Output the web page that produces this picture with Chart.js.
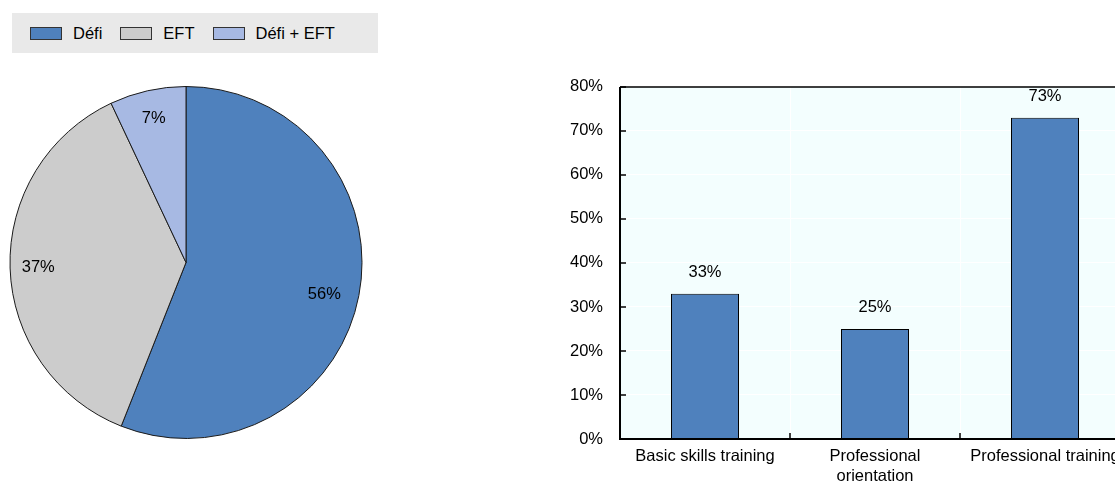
<!DOCTYPE html>
<html>
<head>
<meta charset="utf-8">
<script src="https://cdn.jsdelivr.net/npm/chart.js@4"></script>
<style>
  html, body { margin: 0; padding: 0; background: #fff; overflow: hidden; width: 1115px; height: 483px; }
  body { position: relative; font-family: 'Liberation Sans Narrow', 'Arial Narrow', 'Liberation Sans', Arial, sans-serif; }
  #legend {
    position: absolute; left: 12px; top: 13px; width: 366px; height: 40px;
    background: #e9e9e9; display: flex; align-items: center; padding-left: 18px; box-sizing: border-box;
    font-size: 16.5px; color: #000;
  }
  #legend .item { display: flex; align-items: center; margin-right: 18px; }
  #legend .sw { width: 30px; height: 11px; border: 1px solid #333; margin-right: 11px; }
  #pieWrap { position: absolute; left: 0; top: 86px; width: 372px; height: 353px; }
  #barWrap { position: absolute; left: 540px; top: 60px; width: 600px; height: 440px; }
</style>
</head>
<body>
<div id="legend"></div>
<div id="pieWrap"><canvas id="pie"></canvas></div>
<div id="barWrap"><canvas id="bar"></canvas></div>
<script>
// Parts de participants par dispositif
const pieLabels = ['Défi', 'EFT', 'Défi + EFT'];
const pieValues = [56, 37, 7];
const pieColors = ['#4f81bd', '#cccccc', '#a7b9e3'];

// Types of training received
const barLabels = ['Basic skills training', ['Professional', 'orientation'], 'Professional training'];
const barValues = [33, 25, 73];
const yTicks = [0, 10, 20, 30, 40, 50, 60, 70, 80];

const FONT = "'Liberation Sans Narrow', 'Arial Narrow', 'Liberation Sans', Arial, sans-serif";
Chart.defaults.font.family = FONT;
Chart.defaults.font.size = 16.5;
Chart.defaults.color = '#000';

// legend html
document.getElementById('legend').innerHTML = pieLabels.map((l, i) =>
  `<div class="item"><div class="sw" style="background:${pieColors[i]}"></div><span>${l}</span></div>`
).join('');

// pourcentages dans les parts
const pieLabelPlugin = {
  id: 'pieLabels',
  afterDatasetsDraw(chart) {
    const ctx = chart.ctx;
    const meta = chart.getDatasetMeta(0);
    ctx.save();
    ctx.font = '16.5px ' + FONT;
    ctx.fillStyle = '#000';
    ctx.textAlign = 'center';
    ctx.textBaseline = 'middle';
    meta.data.forEach((arc, i) => {
      const mid = (arc.startAngle + arc.endAngle) / 2;
      const d = arc.outerRadius * (i === 0 ? 0.8 : 0.84);
      ctx.fillText(pieValues[i] + '%', arc.x + Math.cos(mid) * d, arc.y + Math.sin(mid) * d + (i === 0 ? 6 : 0));
    });
    ctx.restore();
  }
};

new Chart(document.getElementById('pie'), {
  type: 'pie',
  data: {
    labels: pieLabels,
    datasets: [{
      data: pieValues,
      backgroundColor: pieColors,
      borderColor: '#1a1a1a',
      borderWidth: 1,
    }],
  },
  options: {
    responsive: true, maintainAspectRatio: false, animation: false,
    layout: { padding: 0 },
    plugins: { legend: { display: false }, tooltip: { enabled: false } },
  },
  plugins: [pieLabelPlugin],
});

// fond du graphique, cadre, ticks internes et etiquettes des barres
const barDecor = {
  id: 'barDecor',
  beforeDraw(chart) {
    const a = chart.chartArea, ctx = chart.ctx;
    ctx.save();
    ctx.fillStyle = '#f3fefe';
    ctx.fillRect(a.left, a.top, a.right - a.left, a.bottom - a.top);
    ctx.restore();
  },
  afterDatasetsDraw(chart) {
    const a = chart.chartArea, ctx = chart.ctx;
    const y = chart.scales.y, x = chart.scales.x;
    ctx.save();
    ctx.strokeStyle = '#000';
    // top / right
    ctx.lineWidth = 1.5;
    ctx.beginPath();
    ctx.moveTo(a.left, a.top); ctx.lineTo(a.right, a.top); ctx.lineTo(a.right, a.bottom);
    ctx.stroke();
    // axes
    ctx.lineWidth = 2;
    ctx.beginPath();
    ctx.moveTo(a.left, a.top); ctx.lineTo(a.left, a.bottom); ctx.lineTo(a.right, a.bottom);
    ctx.stroke();
    // inner ticks
    ctx.lineWidth = 1.5;
    ctx.beginPath();
    yTicks.forEach(v => {
      const py = Math.round(y.getPixelForValue(v));
      ctx.moveTo(a.left, py); ctx.lineTo(a.left + 6, py);
    });
    for (let i = 1; i < barLabels.length; i++) {
      const px = Math.round((x.getPixelForValue(i - 1) + x.getPixelForValue(i)) / 2);
      ctx.moveTo(px, a.bottom); ctx.lineTo(px, a.bottom - 6);
    }
    ctx.stroke();
    // value labels
    ctx.font = '16.5px ' + FONT;
    ctx.fillStyle = '#000';
    ctx.textAlign = 'center';
    ctx.textBaseline = 'bottom';
    chart.getDatasetMeta(0).data.forEach((bar, i) => {
      ctx.fillText(barValues[i] + '%', bar.x, bar.y - 13);
    });
    ctx.restore();
  }
};

new Chart(document.getElementById('bar'), {
  type: 'bar',
  data: {
    labels: barLabels,
    datasets: [{
      data: barValues,
      backgroundColor: '#4f81bd',
      borderColor: '#000',
      borderWidth: 1,
      barPercentage: 0.4,
      categoryPercentage: 1,
    }],
  },
  options: {
    responsive: true, maintainAspectRatio: false, animation: false,
    layout: { padding: { top: 6, right: 10, bottom: 0, left: 0 } },
    plugins: { legend: { display: false }, tooltip: { enabled: false } },
    scales: {
      x: {
        grid: { color: '#ffffff', lineWidth: 1, offset: true, drawTicks: false },
        border: { display: false },
        ticks: { padding: 8, maxRotation: 0, autoSkip: false },
        afterFit: (s) => { s.height = 61; },
      },
      y: {
        min: 0, max: 80,
        grid: { color: '#ffffff', lineWidth: 1, drawTicks: false },
        border: { display: false },
        ticks: { stepSize: 10, padding: 17, callback: (v) => v + '%' },
        afterFit: (s) => { s.width = 80; },
      },
    },
  },
  plugins: [barDecor],
});
</script>
</body>
</html>
